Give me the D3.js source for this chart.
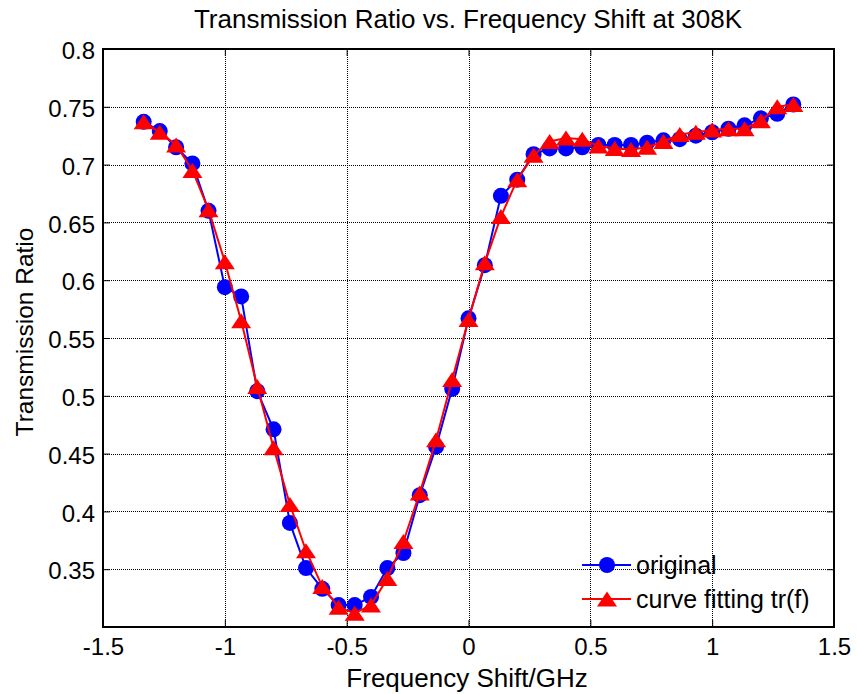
<!DOCTYPE html>
<html>
<head>
<meta charset="utf-8">
<script src="https://cdn.jsdelivr.net/npm/d3@7"></script>
<style>
  html, body { margin: 0; padding: 0; background: #fff; }
  svg { display: block; font-family: Arial, "Liberation Sans", Helvetica, sans-serif; }
</style>
</head>
<body>
<svg id="chart" width="857" height="694"></svg>
<script>
// Frequency shift (GHz) of each sample
const freq = [-1.333, -1.267, -1.200, -1.133, -1.067, -1.000, -0.933, -0.867, -0.800, -0.733,
              -0.667, -0.600, -0.533, -0.467, -0.400, -0.333, -0.267, -0.200, -0.133, -0.067,
               0.000,  0.067,  0.133,  0.200,  0.267,  0.333,  0.400,  0.467,  0.533,  0.600,
               0.667,  0.733,  0.800,  0.867,  0.933,  1.000,  1.067,  1.133,  1.200,  1.267, 1.333];

// Measured transmission ratio
const original = [0.737, 0.729, 0.715, 0.701, 0.660, 0.594, 0.586, 0.504, 0.471, 0.390,
                  0.351, 0.333, 0.319, 0.319, 0.326, 0.351, 0.364, 0.414, 0.456, 0.506,
                  0.567, 0.613, 0.673, 0.687, 0.709, 0.714, 0.714, 0.715, 0.717, 0.717,
                  0.717, 0.719, 0.721, 0.722, 0.725, 0.728, 0.731, 0.734, 0.740, 0.744, 0.752];

// Fitted curve tr(f)
const fitted = [0.737, 0.728, 0.717, 0.695, 0.661, 0.616, 0.565, 0.508, 0.455, 0.406,
                0.366, 0.335, 0.317, 0.312, 0.319, 0.342, 0.374, 0.416, 0.462, 0.514,
                0.566, 0.615, 0.655, 0.687, 0.708, 0.720, 0.723, 0.722, 0.716, 0.714,
                0.713, 0.715, 0.720, 0.726, 0.728, 0.730, 0.731, 0.731, 0.738, 0.750, 0.752];

const xTicks = [-1.5, -1, -0.5, 0, 0.5, 1, 1.5];
const xTickLabels = ["-1.5", "-1", "-0.5", "0", "0.5", "1", "1.5"];
const yTicks = [0.35, 0.4, 0.45, 0.5, 0.55, 0.6, 0.65, 0.7, 0.75, 0.8];
const yTickLabels = ["0.35", "0.4", "0.45", "0.5", "0.55", "0.6", "0.65", "0.7", "0.75", "0.8"];

const titleText = "Transmission Ratio vs. Frequency Shift at 308K";
const xLabelText = "Frequency Shift/GHz";
const yLabelText = "Transmission Ratio";
const legendNames = ["original", "curve fitting tr(f)"];

(function draw() {
  const svg = d3.select("#chart");
  const pL = 103, pR = 834, pT = 49, pB = 627;

  const x = d3.scaleLinear().domain([-1.5, 1.5]).range([pL, pR]);
  const y = d3.scaleLinear().domain([0.3, 0.8]).range([pB, pT]);

  svg.append("rect").attr("width", 857).attr("height", 694).attr("fill", "#fff");

  // Dotted grid
  const grid = svg.append("g").attr("stroke", "#000").attr("stroke-width", 1)
    .attr("stroke-dasharray", "1,1").attr("shape-rendering", "crispEdges");
  xTicks.slice(1, -1).forEach(t => {
    grid.append("line").attr("x1", Math.round(x(t)) + 0.5).attr("x2", Math.round(x(t)) + 0.5)
      .attr("y1", pT).attr("y2", pB);
  });
  yTicks.slice(0, -1).forEach(t => {
    grid.append("line").attr("y1", Math.round(y(t)) + 0.5).attr("y2", Math.round(y(t)) + 0.5)
      .attr("x1", pL).attr("x2", pR);
  });

  // Axes with inward ticks on all four sides
  const tickLen = 7;
  const axB = svg.append("g").attr("transform", `translate(0,${pB})`)
    .call(d3.axisBottom(x).tickValues(xTicks).tickFormat((d, i) => xTickLabels[i])
      .tickSizeInner(-tickLen).tickSizeOuter(0).tickPadding(11));
  const axT = svg.append("g").attr("transform", `translate(0,${pT})`)
    .call(d3.axisTop(x).tickValues(xTicks).tickFormat("").tickSizeInner(-tickLen).tickSizeOuter(0));
  const axL = svg.append("g").attr("transform", `translate(${pL},0)`)
    .call(d3.axisLeft(y).tickValues(yTicks).tickFormat((d, i) => yTickLabels[i])
      .tickSizeInner(-tickLen).tickSizeOuter(0).tickPadding(8));
  const axR = svg.append("g").attr("transform", `translate(${pR},0)`)
    .call(d3.axisRight(y).tickValues(yTicks).tickFormat("").tickSizeInner(-tickLen).tickSizeOuter(0));

  [axB, axT, axL, axR].forEach(g => {
    g.select(".domain").remove();
    g.selectAll("line").attr("stroke", "#000").attr("stroke-width", 1);
    g.selectAll("text").attr("fill", "#000").attr("font-size", 24)
      .attr("font-family", "Arial, 'Liberation Sans', sans-serif");
  });
  axL.selectAll("text").attr("dy", "0.4em");
  axB.selectAll("text").attr("dy", "0.71em");

  // Box
  svg.append("rect").attr("x", pL).attr("y", pT).attr("width", pR - pL).attr("height", pB - pT)
    .attr("fill", "none").attr("stroke", "#000").attr("stroke-width", 2);

  const pts = (vals) => freq.map((f, i) => [f, vals[i]]);
  const line = d3.line().x(d => x(d[0])).y(d => y(d[1]));

  const tri = (cx, cy) => {
    const w = 10, h = 7.5;
    return `M${cx},${cy - h}L${cx + w},${cy + h}L${cx - w},${cy + h}Z`;
  };

  // Measured series
  svg.append("path").datum(pts(original)).attr("d", line)
    .attr("fill", "none").attr("stroke", "#0000ff").attr("stroke-width", 2);
  svg.append("g").selectAll("circle").data(pts(original)).join("circle")
    .attr("cx", d => x(d[0])).attr("cy", d => y(d[1])).attr("r", 8).attr("fill", "#0000ff");

  // Fitted series
  svg.append("path").datum(pts(fitted)).attr("d", line)
    .attr("fill", "none").attr("stroke", "#ff0000").attr("stroke-width", 2);
  svg.append("g").selectAll("path").data(pts(fitted)).join("path")
    .attr("d", d => tri(x(d[0]), y(d[1]))).attr("fill", "#ff0000");

  // Legend
  const lg = svg.append("g");
  const legendRows = [{ cy: 565, color: "#0000ff", mark: "circle" }, { cy: 599, color: "#ff0000", mark: "tri" }];
  legendRows.forEach((r, i) => {
    lg.append("line").attr("x1", 582).attr("x2", 631).attr("y1", r.cy).attr("y2", r.cy)
      .attr("stroke", r.color).attr("stroke-width", 2);
    if (r.mark === "circle") {
      lg.append("circle").attr("cx", 607).attr("cy", r.cy).attr("r", 8).attr("fill", r.color);
    } else {
      lg.append("path").attr("d", tri(607, r.cy)).attr("fill", r.color);
    }
    lg.append("text").attr("x", 636).attr("y", r.cy + 9).attr("font-size", 25)
      .attr("fill", "#000").text(legendNames[i]);
  });

  // Titles
  svg.append("text").attr("x", 468).attr("y", 28).attr("text-anchor", "middle")
    .attr("font-size", 26).attr("fill", "#000").text(titleText);
  svg.append("text").attr("x", 467).attr("y", 687).attr("text-anchor", "middle")
    .attr("font-size", 26).attr("fill", "#000").text(xLabelText);
  svg.append("text").attr("transform", "translate(33,332) rotate(-90)").attr("text-anchor", "middle")
    .attr("font-size", 24.5).attr("fill", "#000").text(yLabelText);
})();
</script>
</body>
</html>
